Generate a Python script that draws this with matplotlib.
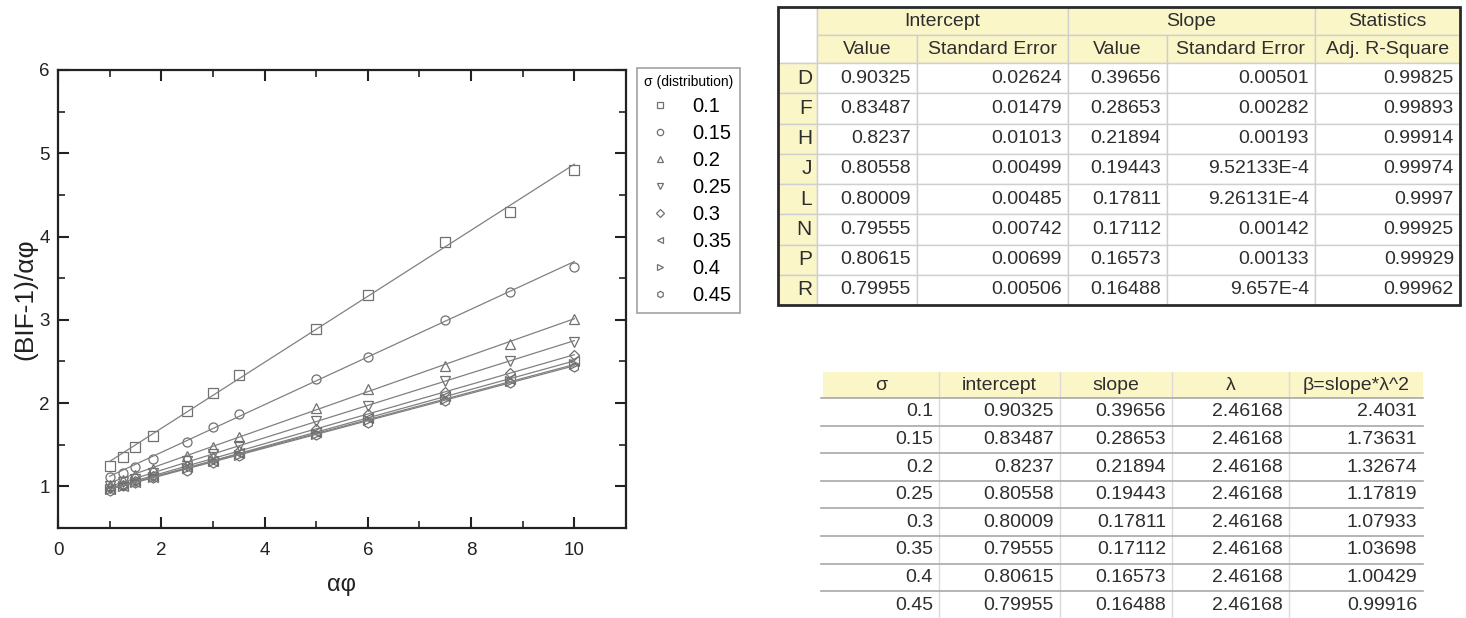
import numpy as np
import matplotlib
matplotlib.use('Agg')
import matplotlib.pyplot as plt
from matplotlib.patches import Rectangle
from matplotlib.ticker import MultipleLocator

plt.rcParams['font.family'] = ['Liberation Sans', 'DejaVu Sans']

# data
x_vals = [1, 1.25, 1.5, 1.833, 2.5, 3, 3.5, 5, 6, 7.5, 8.75, 10]
sigmas = [0.1, 0.15, 0.2, 0.25, 0.3, 0.35, 0.4, 0.45]
y_01 = [1.24, 1.35, 1.47, 1.60, 1.90, 2.12, 2.34, 2.89, 3.30, 3.93, 4.29, 4.80]
y_015 = [1.11, 1.16, 1.23, 1.33, 1.53, 1.71, 1.87, 2.29, 2.55, 3.00, 3.33, 3.64]
y_02 = [1.02, 1.08, 1.14, 1.21, 1.36, 1.47, 1.59, 1.94, 2.17, 2.45, 2.71, 3.01]
y_025 = [1.00, 1.05, 1.09, 1.16, 1.30, 1.39, 1.48, 1.78, 1.97, 2.26, 2.50, 2.73]
y_03 = [0.98, 1.02, 1.07, 1.13, 1.25, 1.34, 1.42, 1.69, 1.87, 2.13, 2.36, 2.58]
y_035 = [0.97, 1.01, 1.05, 1.11, 1.23, 1.31, 1.40, 1.65, 1.82, 2.08, 2.29, 2.51]
y_04 = [0.97, 1.01, 1.05, 1.11, 1.22, 1.30, 1.38, 1.63, 1.80, 2.05, 2.26, 2.47]
y_045 = [0.95, 1.00, 1.04, 1.10, 1.19, 1.28, 1.36, 1.62, 1.76, 2.03, 2.24, 2.43]
series = [y_01, y_015, y_02, y_025, y_03, y_035, y_04, y_045]

row_names = ['D', 'F', 'H', 'J', 'L', 'N', 'P', 'R']
intercept = [0.90325, 0.83487, 0.8237, 0.80558, 0.80009, 0.79555, 0.80615, 0.79955]
intercept_err = [0.02624, 0.01479, 0.01013, 0.00499, 0.00485, 0.00742, 0.00699, 0.00506]
slope = [0.39656, 0.28653, 0.21894, 0.19443, 0.17811, 0.17112, 0.16573, 0.16488]
slope_err = [0.00501, 0.00282, 0.00193, 9.52133e-4, 9.26131e-4, 0.00142, 0.00133, 9.657e-4]
adj_r2 = [0.99825, 0.99893, 0.99914, 0.99974, 0.9997, 0.99925, 0.99929, 0.99962]
lam = [2.46168] * 8
beta = [2.4031, 1.73631, 1.32674, 1.17819, 1.07933, 1.03698, 1.00429, 0.99916]

markers = ['s', 'o', '^', 'v', 'D', '<', '>', 'h']

W, H = 1466, 618
fig = plt.figure(figsize=(W / 100, H / 100), dpi=100)


def px_axes(x0, y0, x1, y1):
    return fig.add_axes([x0 / W, 1 - y1 / H, (x1 - x0) / W, (y1 - y0) / H])


def fmt(v):
    e = int(np.floor(np.log10(abs(v))))
    if e < -3:
        return f"{v / 10 ** e:.6g}E{e}"
    return f"{v:.6g}"


# ---- scatter plot with linear fits ----
ax = px_axes(58, 70, 626, 528)
handles = []
for sig, ys, m, b, k in zip(sigmas, series, markers, intercept, slope):
    ms = 5.5 if m == 'D' else 6.5
    h, = ax.plot(x_vals, ys, linestyle='none', marker=m, ms=ms, mfc='none',
                 mec='#707070', mew=0.9, label=str(sig))
    handles.append(h)
    xx = np.array([x_vals[0], x_vals[-1]])
    ax.plot(xx, b + k * xx, color='#808080', lw=0.9)

ax.set_xlim(0, 11)
ax.set_ylim(0.5, 6)
ax.xaxis.set_major_locator(MultipleLocator(2))
ax.xaxis.set_minor_locator(MultipleLocator(1))
ax.yaxis.set_major_locator(MultipleLocator(1))
ax.yaxis.set_minor_locator(MultipleLocator(0.5))
ax.tick_params(which='both', direction='in', top=True, right=True,
               colors='#222222', labelsize=13.5)
ax.tick_params(which='major', length=8, width=1.5)
ax.tick_params(which='minor', length=5, width=1.2)
ax.tick_params(axis='x', which='major', pad=10)
ax.tick_params(axis='y', which='major', pad=6)
for sp in ax.spines.values():
    sp.set_linewidth(1.6)
    sp.set_color('#222222')
ax.set_xlabel('αφ', fontsize=17, color='#222222')
ax.set_ylabel('(BIF-1)/αφ', fontsize=19, color='#222222')
ax.xaxis.set_label_coords(0.5, -0.10)
ax.yaxis.set_label_coords(-0.037, 0.5)

leg = fig.legend(handles, [str(s) for s in sigmas], loc='upper left',
                 bbox_to_anchor=(637 / W, 1 - 68 / H), title='σ (distribution)',
                 fontsize=14.5, title_fontsize=10, frameon=True, fancybox=False,
                 edgecolor='#8a8a8a', borderpad=0.35, labelspacing=0.40,
                 handlelength=1.6, handletextpad=0.8, markerscale=0.7,
                 alignment='left', borderaxespad=0)
leg.get_frame().set_linewidth(1.2)

# ---- tables ----
tab = px_axes(760, 0, 1466, 618)
tab.set_xlim(760, 1466)
tab.set_ylim(618, 0)
tab.axis('off')

yellow = '#FBF6C8'
grid = '#cfcfcf'
txt = '#2e2e2e'
fs = 14


def cell(x0, x1, y0, y1, fc, ec=grid, lw=1.0):
    tab.add_patch(Rectangle((x0, y0), x1 - x0, y1 - y0, facecolor=fc,
                            edgecolor=ec, lw=lw, clip_on=False))


# top table (fit results)
cx = [778, 817, 917, 1068, 1167, 1315, 1460]
ry = [7, 35, 63] + [63 + 30.25 * (i + 1) for i in range(8)]
cell(cx[0], cx[1], ry[0], ry[2], 'white')
for (a, b_), name in zip([(1, 3), (3, 5), (5, 6)], ['Intercept', 'Slope', 'Statistics']):
    cell(cx[a], cx[b_], ry[0], ry[1], yellow)
    tab.text((cx[a] + cx[b_]) / 2, (ry[0] + ry[1]) / 2, name, ha='center',
             va='center', fontsize=fs, color=txt)
for j, name in enumerate(['Value', 'Standard Error', 'Value', 'Standard Error',
                          'Adj. R-Square']):
    cell(cx[j + 1], cx[j + 2], ry[1], ry[2], yellow)
    tab.text((cx[j + 1] + cx[j + 2]) / 2, (ry[1] + ry[2]) / 2, name,
             ha='center', va='center', fontsize=fs, color=txt)
cols = [intercept, intercept_err, slope, slope_err, adj_r2]
for i in range(8):
    y0, y1 = ry[i + 2], ry[i + 3]
    cell(cx[0], cx[1], y0, y1, yellow)
    tab.text(cx[1] - 5, (y0 + y1) / 2, row_names[i], ha='right', va='center',
             fontsize=fs + 1, color=txt)
    for j, col in enumerate(cols):
        cell(cx[j + 1], cx[j + 2], y0, y1, 'white')
        tab.text(cx[j + 2] - 6, (y0 + y1) / 2, fmt(col[i]), ha='right',
                 va='center', fontsize=fs, color=txt)
tab.add_patch(Rectangle((cx[0], ry[0]), cx[-1] - cx[0], ry[-1] - ry[0],
                        facecolor='none', edgecolor='#2a2a2a', lw=2, clip_on=False))

# bottom table (beta)
bx = [823, 939, 1060, 1172, 1289, 1423]
by = [372, 398] + [398 + 27.6 * (i + 1) for i in range(8)]
tab.add_patch(Rectangle((bx[0], by[0]), bx[-1] - bx[0], by[1] - by[0],
                        facecolor=yellow, edgecolor='none'))
for j, name in enumerate(['σ', 'intercept', 'slope', 'λ', 'β=slope*λ^2']):
    tab.text((bx[j] + bx[j + 1]) / 2, (by[0] + by[1]) / 2, name, ha='center',
             va='center', fontsize=fs, color=txt)
for x in bx[1:-1]:
    tab.plot([x, x], [by[0], by[-1]], color='#dadada', lw=1, clip_on=False)
for y in by[1:]:
    tab.plot([bx[0] - 2, bx[-1]], [y, y], color='#a8a8a8', lw=1.2, clip_on=False)
bcols = [sigmas, intercept, slope, lam, beta]
for i in range(8):
    yc = (by[i + 1] + by[i + 2]) / 2
    for j, col in enumerate(bcols):
        tab.text(bx[j + 1] - 6, yc, fmt(col[i]), ha='right', va='center',
                 fontsize=fs, color=txt)

fig.savefig('out.png', dpi=100)
